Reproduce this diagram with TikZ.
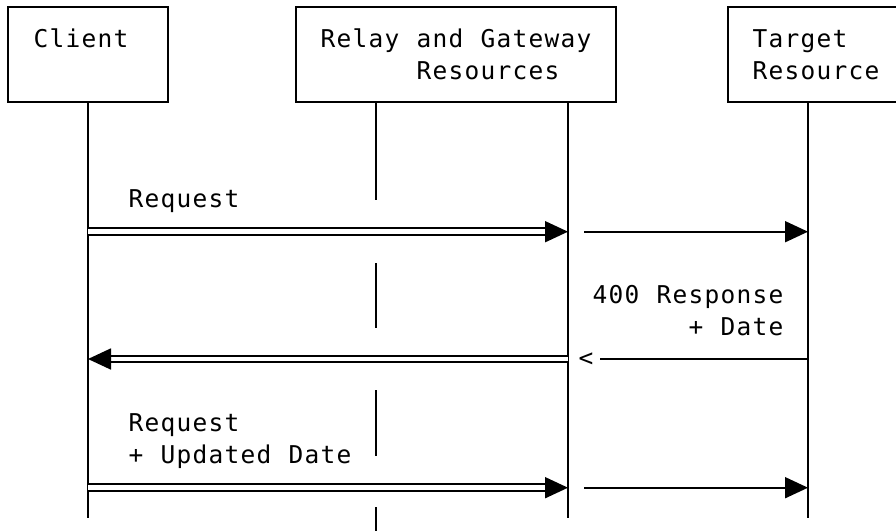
\documentclass[tikz,border=0pt]{standalone}
\usepackage{fontspec}
\setmonofont{DejaVu Sans Mono}
\usetikzlibrary{arrows.meta}
\ExplSyntaxOn
\NewDocumentCommand\cells{m}{\tl_map_inline:nn{#1}{\makebox[16pt]{##1}}}
\ExplSyntaxOff
\begin{document}
\begin{tikzpicture}[x=1pt,y=-1pt,
  every node/.style={inner sep=0pt, outer sep=0pt},
  lbl/.style={anchor=base west, font=\ttfamily\fontsize{24.5}{32}\selectfont},
  box/.style={draw, line width=1.8pt, anchor=north west, minimum height=95pt},
  life/.style={line width=1.8pt},
  dbl/.style={line width=1.8pt, double, double distance=4.9pt, -{Triangle[length=23pt,width=21pt]}},
  sgl/.style={line width=1.8pt, -{Triangle[length=23pt,width=21pt]}},
  retline/.style={line width=2pt}]
\useasboundingbox (0,0) rectangle (896,531);
% boxes
\node[box, minimum width=160pt] (client) at (8,7) {};
\node[box, minimum width=320pt] (relay) at (296,7) {};
\node[box, minimum width=176pt] (target) at (728,7) {};
% box labels
\node[lbl] (tclient) at (33,47) {\cells{Client}};
\node[lbl] (trelay1) at (320,47) {\cells{Relay~and~Gateway}};
\node[lbl] (trelay2) at (416,79) {\cells{Resources}};
\node[lbl] (ttarget1) at (752,47) {\cells{Target}};
\node[lbl] (ttarget2) at (752,79) {\cells{Resource}};
% lifeline coordinates
\coordinate (c0) at (88,102);   \coordinate (cE) at (88,518);
\coordinate (m0) at (376,102);
\coordinate (m1) at (376,200);  \coordinate (m2) at (376,263);
\coordinate (m3) at (376,328);  \coordinate (m4) at (376,390);
\coordinate (m5) at (376,456);  \coordinate (m6) at (376,507);
\coordinate (mE) at (376,531);
\coordinate (r0) at (568,102);  \coordinate (rE) at (568,518);
\coordinate (t0) at (808,102);  \coordinate (tE) at (808,518);
\draw[life] (c0) -- (cE);
\draw[life] (m0) -- (m1) (m2) -- (m3) (m4) -- (m5) (m6) -- (mE);
\draw[life] (r0) -- (rE);
\draw[life] (t0) -- (tE);
% message coordinates
\coordinate (c1) at (88,231.7);  \coordinate (r1) at (568,231.7);
\coordinate (s1) at (584,231.7); \coordinate (t1) at (808,231.7);
\coordinate (c2) at (88,359);  \coordinate (r2) at (568,359);
\coordinate (s2) at (600,359); \coordinate (t2) at (808,359);
\coordinate (c3) at (88,487.7);  \coordinate (r3) at (568,487.7);
\coordinate (s3) at (584,487.7); \coordinate (t3) at (808,487.7);
% messages
\node[lbl] (req1) at (128,207) {\cells{Request}};
\draw[dbl] (c1) -- (r1);
\draw[sgl] (s1) -- (t1);
\node[lbl] (resp1) at (592,303) {\cells{400~Response}};
\node[lbl] (resp2) at (688,335) {\cells{+~Date}};
\draw[retline] (t2) -- (s2);
\node[lbl, anchor=center] (lt) at (586,360) {<};
\draw[dbl] (r2) -- (c2);
\node[lbl] (req2) at (128,431) {\cells{Request}};
\node[lbl] (req3) at (128,463) {\cells{+~Updated~Date}};
\draw[dbl] (c3) -- (r3);
\draw[sgl] (s3) -- (t3);
\end{tikzpicture}
\end{document}
